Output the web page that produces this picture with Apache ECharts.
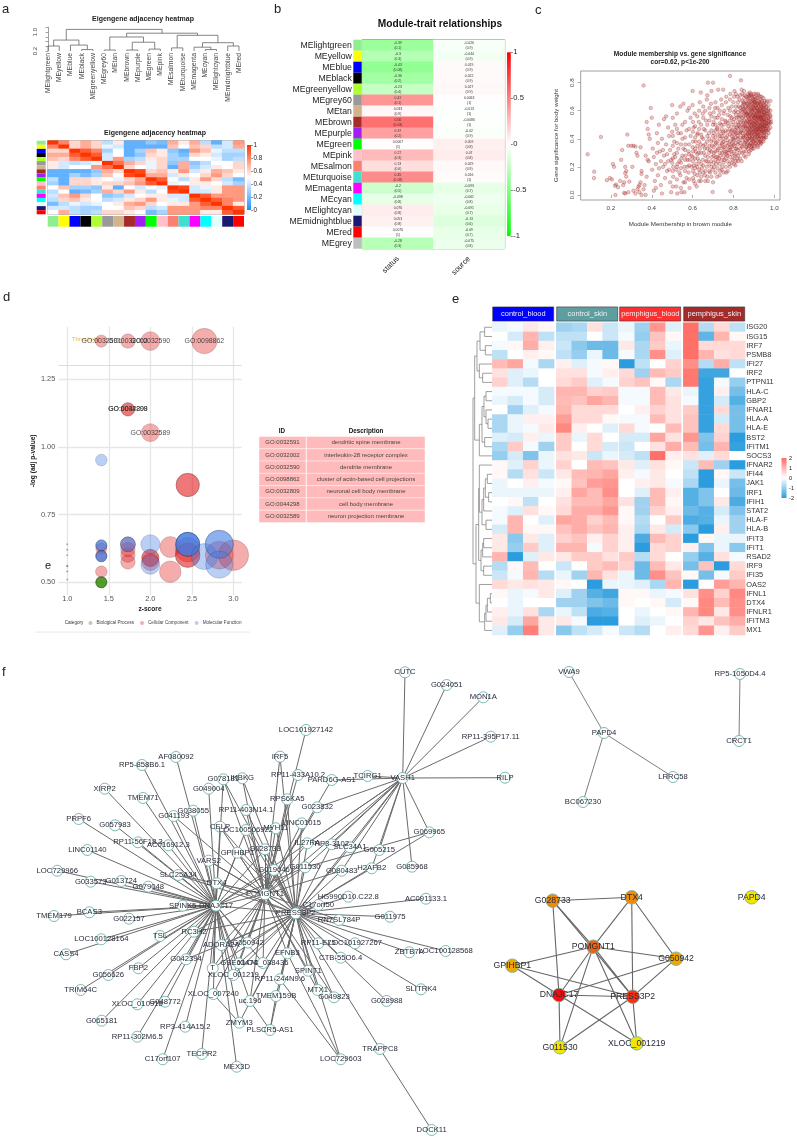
<!DOCTYPE html>
<html><head><meta charset="utf-8">
<style>html,body{margin:0;padding:0;background:#fff}#c{width:797px;height:1139px}</style>
<script src="https://cdn.jsdelivr.net/npm/echarts@6/dist/echarts.min.js"></script>
</head><body><div id="c"></div>
<script>
const F='"Liberation Sans",Arial,sans-serif';
/* ---------- panel a / b: modules ---------- */
const modules=['MElightgreen','MEyellow','MEblue','MEblack','MEgreenyellow','MEgrey60','MEtan','MEbrown','MEpurple','MEgreen','MEpink','MEsalmon','MEturquoise','MEmagenta','MEcyan','MElightcyan','MEmidnightblue','MEred','MEgrey'];
const moduleColors=['#90EE90','#FFFF00','#0000FF','#000000','#ADFF2F','#999999','#D2B48C','#A52A2A','#A020F0','#00FF00','#FFC0CB','#FA8072','#40E0D0','#FF00FF','#00FFFF','#E0FFFF','#191970','#FF0000','#BEBEBE'];
const eigenModules=modules.slice(0,18);
const eigenMerges=[[0,1,.41],[3,4,.26],[2,19,.45],[18,20,.66],[5,6,.24],[7,8,.24],[9,10,.28],[23,24,.57],[22,25,.79],[11,12,.33],[14,15,.26],[13,28,.36],[16,17,.41],[29,30,.55],[27,31,.86],[26,32,.95],[21,33,1.11]];
const adjacency=[
[1,.8,.6,.7,.6,.35,.55,.15,.15,.25,.2,.7,.55,.7,.35,.15,.4,.75],
[.8,1,.6,.7,.6,.45,.4,.15,.15,.15,.15,.65,.5,.65,.6,.35,.4,.7],
[.6,.6,1,.9,.8,.3,.5,.15,.3,.65,.55,.25,.15,.75,.65,.45,.35,.35],
[.7,.7,.9,1,.9,.4,.5,.15,.25,.6,.55,.3,.2,.6,.55,.4,.3,.3],
[.65,.6,.8,.9,1,.4,.75,.3,.35,.55,.6,.3,.3,.5,.5,.45,.3,.35],
[.55,.4,.35,.4,.45,1,.85,.7,.6,.45,.6,.25,.7,.25,.35,.5,.5,.6],
[.55,.4,.5,.5,.75,.85,1,.6,.5,.45,.6,.15,.7,.3,.4,.55,.5,.6],
[.15,.15,.15,.15,.25,.7,.6,1,.95,.6,.65,.55,.75,.4,.55,.7,.65,.55],
[.15,.15,.3,.2,.3,.65,.5,.95,1,.7,.7,.4,.55,.5,.6,.75,.6,.5],
[.35,.15,.6,.6,.55,.5,.45,.6,.7,1,.9,.5,.35,.55,.75,.6,.35,.2],
[.3,.15,.6,.6,.55,.6,.6,.65,.75,.9,1,.45,.5,.55,.55,.5,.4,.3],
[.5,.65,.3,.3,.25,.55,.15,.5,.4,.5,.45,1,.95,.4,.45,.55,.75,.75],
[.35,.5,.15,.2,.3,.7,.6,.75,.55,.35,.5,.95,1,.4,.4,.55,.75,.75],
[.4,.65,.75,.6,.5,.25,.3,.4,.5,.55,.55,.4,.4,1,.9,.75,.75,.75],
[.35,.6,.65,.55,.5,.35,.4,.55,.6,.75,.55,.45,.4,.9,1,.9,.8,.75],
[.2,.35,.45,.4,.45,.5,.55,.7,.75,.6,.5,.55,.55,.75,.9,1,.8,.55],
[.4,.4,.35,.3,.3,.5,.5,.65,.6,.35,.4,.75,.75,.75,.8,.8,1,.9],
[.5,.7,.35,.3,.35,.6,.6,.55,.5,.2,.3,.75,.75,.75,.55,.55,.9,1]];
const traits=['status','source'];
const statusCor=[-.39,-.3,-.43,-.36,-.23,.41,.033,.56,.37,.0067,.27,.13,.45,-.2,-.098,.076,.053,.0076,-.28];
const statusP=['0.1','0.3','0.08','0.2','0.4','0.1','0.9','0.03','0.2','1','0.3','0.6','0.08','0.5','0.8','0.8','0.8','1','0.3'];
const sourceCor=[-.026,-.044,.019,.022,.027,.0063,-.013,-.0086,-.02,.059,.07,.029,.016,-.093,-.061,-.091,-.13,-.09,-.075];
const sourceP=['0.9','0.9','0.9','0.9','0.9','1','1','1','0.9','0.8','0.8','0.9','1','0.7','0.8','0.7','0.6','0.7','0.8'];
/* ---------- panel c ---------- */
const membershipSignificance=[
[.086,.29],[.151,.413],[.118,.166],[.117,.12],[.36,.78],[.18,.105],[.195,.12],[.205,.11],[.21,.22],[.215,.2],[.22,.065],[.225,.075],[.222,0],[.235,.055],[.245,.1],[.25,.25],[.255,.32],[.26,.07],[.265,.09],[.27,.2],[.275,.17],[.27,.155],[.275,.13],[.265,.015],[.27,.01],[.285,.02],[.29,.095],[.285,.35],[.3,.35],[.31,.35],[.28,.43],[.32,.345],[.325,.3],[.33,.28],[.305,.2],[.33,.04],[.335,.06],[.34,.07],[.345,.09],[.35,.17],[.35,.15],[.345,.34],[.36,.04],[.31,.03],[.32,.01],[.34,.02],[.35,0],[.37,0],[.365,.07],[.375,.13],[.38,.25],[.385,.24],[.37,.28],[.375,.52],[.38,.47],[.385,.43],[.39,.4],[.395,.62],
[.4,.55],[.405,.33],[.41,.27],[.402,.18],[.415,.1],[.42,.05],[.41,.03],[.425,.44],[.43,.37],[.42,.22],[.435,.5],[.44,.31],[.43,.14],[.445,.07],[.45,.01],[.45,.4],[.455,.2],[.46,.54],[.46,.28],[.465,.12],[.47,.36],[.47,.56],[.475,.17],[.48,.48],[.48,.24],[.485,.42],[.49,.09],[.49,.32],[.495,.02],[.5,.64],[.5,.45],[.5,.23],[.505,.13],[.51,.38],[.51,.29],[.515,.5],[.52,.18],[.52,.06],[.525,.01],[.53,.44],[.53,.33],[.535,.24],[.54,.63],[.54,.14],[.545,.02],[.55,.5],[.55,.4],[.55,.28],[.555,.65],[.555,.09],[.56,.2],[.56,.02],[.565,.36],[.57,.46],[.57,.12],[.575,.6],[.575,.25],[.58,.31],[.58,.16],[.585,.05],[.59,.55],[.59,.42],[.595,.2],[.6,.74],[.6,.64],[.6,.34],[.6,.27],[.605,.48],[.605,.1],[.61,.15],[.61,.58],[.615,.38],[.62,.22],[.62,.06],[.625,.44],[.63,.3],[.63,.52],[.635,.66],[.635,.16],[.64,.73],[.64,.36],[.64,.1],[.645,.41],[.65,.25],[.65,.58],[.655,.47],[.66,.33],[.66,.14],[.665,.53],[.67,.68],[.67,.38],[.67,.2],[.675,.8],[.675,.1],[.68,.44],[.68,.3],[.685,.58],[.685,.16],[.69,.65],[.69,.24],[.695,.35],[.698,.021],[.7,.8],[.7,.5],[.7,.42],[.7,.18],[.7,.09],
[.705,.3],[.71,.62],[.71,.55],[.715,.37],[.715,.22],[.72,.47],[.72,.13],[.725,.75],[.725,.33],[.73,.57],[.73,.26],[.735,.42],[.735,.17],[.74,.68],[.74,.5],[.745,.3],[.745,.2],[.75,.75],[.75,.38],[.75,.45],[.755,.6],[.755,.25],[.76,.53],[.76,.34],[.765,.7],[.765,.16],[.77,.42],[.77,.28],[.775,.62],[.775,.49],[.78,.36],[.78,.22],[.783,.848],[.785,.026],[.785,.72],[.785,.56],[.79,.45],[.79,.31],[.795,.25],[.8,.66],[.8,.4],[.8,.52],[.8,.36],[.805,.74],[.805,.28],[.81,.6],[.81,.46],[.81,.21],[.815,.33],[.815,.55],[.82,.7],[.82,.42],[.82,.26],[.825,.63],[.825,.5],[.825,.38],[.83,.3],[.83,.57],[.83,.68],[.835,.45],[.837,.817],[.84,.75],[.84,.35],[.84,.53],[.84,.24],[.845,.61],[.845,.41],[.85,.66],[.85,.48],[.85,.31],[.85,.56],[.855,.37],[.855,.71],[.86,.43],[.86,.62],[.86,.52],[.86,.27],[.865,.58],[.865,.34],[.87,.47],[.87,.68],[.87,.4],[.875,.55],[.875,.63],[.875,.29],[.88,.5],[.88,.73],[.88,.36],[.88,.44],[.885,.6],[.885,.66],[.885,.32],[.89,.54],[.89,.41],[.89,.47],[.89,.7],[.895,.57],[.895,.38],[.895,.63],[.9,.51],[.9,.45],[.9,.33],[.9,.67],[.9,.72],[.905,.6],[.905,.55],[.905,.41],[.91,.48],[.91,.64],[.91,.37],[.91,.69],[.915,.53],[.915,.58],[.915,.44],[.92,.5],[.92,.61],[.92,.34],[.92,.72],[.925,.56],[.925,.46],[.925,.66],[.925,.4],[.93,.52],[.93,.6],[.93,.42],[.93,.7],[.935,.49],[.935,.55],[.935,.63],[.935,.37],[.94,.58],[.94,.45],[.94,.67],[.94,.52],[.945,.61],[.945,.41],[.945,.48],[.945,.56],[.95,.53],[.95,.64],[.95,.44],[.95,.59],[.955,.5],[.955,.57],[.955,.46],[.96,.62],[.96,.54],[.96,.41],[.965,.49],[.965,.58],[.965,.67],[.97,.55],[.97,.46],[.97,.6],[.975,.52],[.98,.57],[.985,.52],
[.86,.49],[.87,.53],[.88,.57],[.89,.5],[.9,.55],[.91,.52],[.92,.47],[.92,.55],[.93,.47],[.94,.5],[.95,.49],[.89,.6],[.9,.62],[.91,.57],[.92,.65],[.93,.65],[.94,.62],[.87,.58],[.88,.52],[.86,.57],[.85,.51],[.84,.46],[.83,.49],[.85,.42],[.86,.39],[.87,.36],[.88,.41],[.89,.35],[.9,.38],[.91,.43],[.92,.42],[.93,.38],[.95,.4],[.9,.49],[.91,.46],[.89,.44],[.87,.44],[.88,.47],[.93,.56],[.94,.54],[.96,.51],[.96,.47],[.97,.51],[.925,.59],[.915,.62],[.905,.66],[.895,.68],[.885,.71],[.875,.7],[.865,.65],[.855,.6],[.845,.64],[.835,.6],[.825,.55],[.815,.48],[.805,.45],[.795,.4],[.785,.34],[.775,.32],[.765,.29],[.755,.31],[.745,.36],[.735,.28],[.725,.24],[.715,.27],[.705,.2],[.695,.27],[.685,.32],[.675,.27],[.665,.24],[.655,.3],[.645,.19],[.635,.33],[.625,.26],[.615,.31],[.605,.21],[.595,.28],[.585,.25],[.575,.2],[.565,.28],[.555,.33],[.545,.26],[.535,.16],[.525,.22],[.515,.27],[.505,.2],[.495,.25],[.485,.18],[.475,.29],[.465,.22],[.455,.32],[.445,.24],[.435,.19],[.425,.3]];
/* extra points, read column by column: [membership, [significance...]] */
const membershipColumns=[
[.843,[.39,.44,.5,.55,.59,.63,.67,.72,.3,.34]],
[.852,[.36,.41,.46,.49,.53,.58,.61,.65,.69,.74,.28]],
[.861,[.34,.38,.42,.45,.48,.51,.55,.59,.63,.66,.7,.31]],
[.871,[.33,.37,.4,.43,.46,.49,.52,.56,.59,.62,.65,.69,.72]],
[.878,[.35,.39,.42,.45,.48,.51,.54,.57,.61,.64,.67,.71,.31]],
[.887,[.34,.37,.4,.43,.46,.49,.52,.55,.58,.61,.64,.67,.72]],
[.893,[.36,.39,.42,.45,.48,.51,.53,.56,.59,.62,.65,.69,.33]],
[.902,[.35,.4,.43,.46,.48,.5,.53,.56,.58,.61,.64,.66,.7]],
[.908,[.36,.39,.42,.45,.47,.5,.52,.55,.57,.6,.63,.66,.68,.72]],
[.917,[.35,.38,.41,.44,.47,.49,.51,.54,.56,.59,.62,.65,.69]],
[.923,[.37,.4,.43,.45,.48,.5,.53,.55,.58,.6,.63,.67,.71]],
[.932,[.36,.39,.42,.45,.47,.49,.51,.54,.56,.59,.61,.64,.68]],
[.938,[.38,.41,.44,.46,.48,.5,.53,.55,.57,.6,.63,.66,.7]],
[.947,[.38,.42,.45,.47,.5,.52,.54,.57,.59,.62,.65,.69]],
[.953,[.41,.44,.47,.49,.52,.54,.56,.59,.61,.64,.67]],
[.962,[.43,.46,.49,.51,.53,.56,.58,.6,.63,.66]],
[.972,[.44,.47,.5,.53,.55,.58,.61,.64]],
[.981,[.48,.51,.54,.56,.6,.67]],
[.703,[.23,.28,.34,.39,.44,.52,.59]],
[.712,[.16,.25,.31,.36,.41,.46,.5,.66]],
[.722,[.19,.27,.32,.38,.43,.48,.55,.62]],
[.733,[.14,.22,.3,.35,.4,.45,.51,.6]],
[.743,[.18,.25,.33,.37,.42,.47,.54,.64]],
[.752,[.16,.23,.28,.34,.4,.44,.5,.58]],
[.763,[.2,.26,.31,.37,.41,.46,.52,.66]],
[.772,[.17,.24,.3,.35,.39,.45,.51,.57]],
[.783,[.2,.27,.32,.38,.43,.47,.53,.6,.68]],
[.792,[.23,.29,.34,.37,.42,.46,.5,.55,.63]],
[.803,[.22,.26,.31,.35,.39,.43,.48,.54,.59,.7]],
[.812,[.24,.29,.33,.37,.41,.44,.5,.57,.63,.72]],
[.822,[.24,.28,.32,.36,.4,.44,.47,.52,.59,.66]],
[.833,[.26,.33,.37,.41,.44,.48,.52,.56,.62,.71]],
[.602,[.12,.17,.24,.31,.38,.45,.52]],
[.612,[.08,.19,.26,.33,.41,.49]],
[.623,[.14,.2,.29,.35,.43,.56]],
[.632,[.1,.18,.24,.38,.47,.6]],
[.642,[.13,.22,.3,.43,.5]],
[.652,[.16,.21,.35,.4,.55,.63]],
[.662,[.1,.17,.28,.36,.46,.6]],
[.672,[.13,.24,.33,.42,.5,.71]],
[.682,[.17,.22,.35,.4,.53,.62]],
[.692,[.13,.2,.31,.38,.46,.56,.74]],
[.503,[.06,.17,.26,.35,.42,.55]],
[.523,[.11,.2,.3,.37,.47,.58]],
[.543,[.05,.19,.23,.36,.44]],
[.563,[.09,.17,.25,.32,.41,.52]],
[.583,[.11,.21,.29,.36,.47,.62]]];
/* ---------- panel d ---------- */
const cellularComponent=[[1.41,1.39,10,'GO:0032591'],[1.73,1.39,14,'GO:0032002'],[2,1.39,24,'GO:0032590'],[2.65,1.39,45,'GO:0098862'],[1.73,1.138,12,'GO:0032809'],[1.73,1.138,12,'GO:0044298'],[2,1.052,22,'GO:0032589'],[2.45,.859,38],[2.45,.859,38],
[1,.62,1],[1,.56,1],[1,.54,1],[1.41,.625,8],[1.41,.6,8],[1.41,.539,9],[1.73,.64,14],[1.73,.62,14],[1.73,.6,14],[1.73,.575,14],[2,.59,20],[2,.59,20],[2,.575,20],[2.24,.63,30],[2.24,.539,32],[2.45,.62,42],[2.45,.6,42],[2.45,.6,42],[2.83,.6,55],[3,.6,66]];
const molecularFunction=[[1,.64,1],[1,.6,1],[1,.56,1],[1,.51,1],[1.41,.951,9],[1.41,.636,8],[1.41,.636,8],[1.41,.636,8],[1.41,.596,8],[1.41,.596,8],[1.41,.596,8],[1.73,.64,15],[1.73,.64,15],[2,.64,25],[2,.565,25],[2.45,.64,40],[2.45,.64,40],[2.45,.64,40],[2.45,.64,40],[2.65,.595,48],[2.83,.64,56],[2.83,.64,56],[2.83,.565,52]];
const biologicalProcess=[[1.41,.5,8],[1.41,.5,8],[1.41,.5,8],[1.41,.5,8]];
const bubbleThreshold=1.3;
const zTicks=[1,1.5,2,2.5,3];
const logpTicks=[.5,.75,1,1.25];
const goIds=['GO:0032591','GO:0032002','GO:0032590','GO:0098862','GO:0032809','GO:0044298','GO:0032589'];
const goDescriptions=['dendritic spine membrane','interleukin-28 receptor complex','dendrite membrane','cluster of actin-based cell projections','neuronal cell body membrane','cell body membrane','neuron projection membrane'];
/* ---------- panel e ---------- */
const genes=['ISG20','ISG15','IRF7','PSMB8','IFI27','IRF2','PTPN11','HLA-C','GBP2','IFNAR1','HLA-A','HLA-E','BST2','IFITM1','SOCS3','IFNAR2','IFI44','JAK1','IRF1','IFIH1','STAT2','HLA-F','HLA-B','IFIT3','IFIT1','RSAD2','IRF9','IFI35','OAS2','IFNL1','DTX4','IFNLR1','IFITM3','MX1'];
const groups=['control_blood','control_skin','pemphigus_blood','pemphigus_skin'];
const groupColors=['#0000FF','#5F9EA0','#FF3030','#A52A2A'];
const expression=[
[-.2,-.1,.3,.1,-.9,-.8,.4,-.5,-.2,-.9,1.4,-.3,1.9,-.7,.5,-.6],
[0,-.4,1,-.6,-.6,-.6,0,-.5,-.1,-1,.8,.1,1.9,-1.5,1,.1],
[-.1,.1,1.1,.2,-.5,-1.1,-1.4,-1.4,.3,-.8,.7,-.2,1.9,.5,.5,.5],
[-.6,0,.2,.1,-.6,-1,-.2,-1.4,-.1,-.8,1.5,-.3,1.9,1,.4,.5],
[.9,1.2,-.1,-.8,.2,-.3,-.1,.1,-2,-.6,0,.6,1.5,-.7,1.1,-.6],
[.4,-.3,-.2,0,.4,.4,-.1,.2,.5,-.9,.9,.7,1.8,-1.8,-1.8,0],
[.6,-.3,-.7,0,.5,.7,-.3,-.1,.6,.8,.1,-.8,1.8,-1.9,-.1,-1],
[-.1,-.1,-.1,-.4,1,1,.6,.7,-.1,-.1,.9,.3,-.2,-1.9,.2,-1.3],
[-.2,-.4,-.1,-.4,.9,.8,1.2,1,-.1,-.1,.9,.4,-.1,-1.9,-.4,-1.6],
[0,-.9,-.3,-.1,1,.5,.5,.5,0,.2,.6,.4,.7,-1.9,.5,-1.3],
[-.8,-.2,.2,.2,1.3,.5,.5,.1,-.1,-.1,.9,.4,.8,-1.9,-.4,-1.3],
[-.8,-.2,-.1,.3,1.6,.2,0,-.3,.5,-.1,0,.9,.8,-1.9,.5,-1.3],
[-.3,-.4,.2,-.2,.7,-.2,.5,0,-.4,-.4,1.2,.4,1.4,-1.2,.6,-2],
[-.8,.7,-.1,-.9,.7,0,.5,-.4,-.5,0,.4,1.1,.9,-1.3,1,-1.9],
[-1,-.4,-1.2,-.2,.4,.3,-.5,-.2,-.4,-.6,1.9,.2,.4,-.3,.5,0],
[.1,-.3,.6,-.2,.6,0,.9,.8,.3,-.3,.4,.1,-.5,.9,-.9,-2],
[.1,-.7,.4,-.5,.3,.9,1,1.2,.2,-.1,.3,0,-.6,-2,.1,-.5],
[-.2,0,.2,-.1,.1,.8,1.3,1.4,0,.2,.3,-.1,-.8,-2,-.2,-1.3],
[-.2,-.2,-.2,-.2,.2,1.2,.9,1.5,0,-.3,.9,.2,-1.6,-1.2,0,-1.4],
[0,.1,-.6,0,.4,.9,.9,1.2,.4,-.9,.9,.1,-1.6,-1.2,.3,-1.7],
[-.1,-.3,.4,.1,.5,1.1,1.1,1.4,.1,-.9,.6,.2,-1.4,-1.6,-.4,-1.2],
[-.1,1,0,-.3,1.2,1.1,.6,.9,.1,-.7,0,.7,-1.7,-1.6,-.2,-.9],
[-.4,1,.1,.1,.8,1.1,.8,1,.2,-.8,.3,-.4,-1.1,-2,.2,-.9],
[.3,-1.1,.3,-.3,.6,.8,.2,.6,.2,-1.7,.9,.6,-2,.1,-.2,-.2],
[.3,-1,.7,-.3,1,1,-.1,.6,.2,-2,.5,.6,.2,-1.2,-.2,-1.1],
[1,-2,-.3,.3,.3,.7,.7,.4,.7,-.7,.5,0,-1,-1.6,.4,-.1],
[-.7,.1,.9,0,-.5,0,.7,.9,.6,-1.4,.9,.3,-1.3,.8,-2,.5],
[-.5,-.1,1,-.7,-.2,-.9,1,.4,-.2,-1.4,1.5,.8,.1,-1.3,-.1,.7],
[.5,.3,.4,.3,.1,0,-2,-.2,-.2,-.3,-.8,1,-2,0,1.3,1],
[.1,-.2,-.1,.3,-.3,-.9,-1.6,-1.8,.1,.1,-.2,-.1,.4,1.5,.6,1.6],
[0,-.2,0,0,-.9,-.9,-1.2,-1.4,.1,0,.1,-.4,.1,1.6,.9,1.5],
[.2,-.2,.4,-.8,-.2,-.6,-1.7,-1.6,0,-.2,0,.1,1,1.6,.3,1.5],
[.3,-.4,1.2,.3,.3,-.1,-2,-2,0,-.3,-.2,0,.6,.3,.8,1.1],
[-.3,-1,1.7,.3,-1.1,-.6,-.4,-.1,-.5,-.7,0,.2,.5,1.4,.2,.7]];
const geneMerges=[[0,1,22],[2,3,20],[34,35,36],[5,6,28],[4,37,38],[36,38,45],[7,8,18],[10,11,12],[9,41,18],[40,42,24],[12,13,22],[43,44,30],[45,14,38],[39,46,52],
[16,17,14],[18,19,10],[48,49,20],[20,50,25],[21,22,18],[51,52,30],[15,53,38],[23,24,25],[25,55,28],[26,27,25],[56,57,33],[54,58,40],[29,30,5],[60,31,14],[61,32,18],[62,33,22],[28,63,38],[59,64,48],[47,65,57]];
/* ---------- panel f ---------- */
const netNodes=[['DNAJC17',216,905.7],['POMGNT1',265,894.3],['PRESS3P2',295.7,913.3],['VASH1',402.7,778],['RP5-858B6.1',142,765],['AF080092',176,757],['XIRP2',104.7,788.7],['TMEM71',143,798],['G078181',223.3,779.3],['IKBKG',242.3,778.3],['G049004',208.7,788.7],['G041193',173.7,816],['G038055',193.3,810.7],['RP11-403N14.1',246,810],['PRPF6',78.7,819],['G057983',115,825.3],['CELP',220,826.7],['LOC100506922',246,830],['MYH11',275.7,828.3],['RP11-56F18.3',138,842.3],['AC016912.3',168.3,845.3],['LINC01140',87.3,850],['VARS2',208.7,860.7],['GPIHBP1',237.3,852.7],['G028733',265,849.3],['G019646',274,870],['LOC729966',57.3,870.7],['G033573',90.7,881.7],['G013724',121.3,881],['G079048',148.3,886.7],['SLC25A34',178.3,875],['DTX4',216.7,883.3],['SPINK5',182.7,905.7],['TMEM179',54,916],['BCAS3',89.3,912.3],['G022157',129,918.7],['LOC100128164',101.3,939.3],['TSL',160,936],['RC3H2',194,931.7],['ADORA2A',221.3,945],['G050942',248,942.5],['CASS4',66,954.3],['G042394',186,959.3],['FBP2',138.3,968.3],['G056626',108.3,975],['TRIM64C',80.7,990],['T',212.7,968.3],['GSE61474',239,963.3],['XLOC_038436',263,963],['XLOC_001219',233.3,975],['EFNB3',287.3,953.3],['RP11-244N9.6',280,979.3],['SPINT1',308.3,970.7],['RP11-E75',318.3,943.3],['LOC101927267',355,943.3],['CTB-55O6.4',340.7,957.7],['ZBTB7A',409.3,952.3],['LOC100128568',445.7,951],['SLITRK4',421,989.3],['G028988',386.7,1001],['MTX1',317.7,990],['G049823',334,997.3],['XLOC_007240',213.3,994],['TMEM159B',276,996],['uc.196',250,1001],['XLOC_010918',137.3,1004.3],['G048772',165,1001.7],['G065181',101.7,1020.7],['RP3-414A15.2',185.3,1026.7],['RP11-302M6.5',137.3,1036.7],['ZMYM3',239.3,1022.7],['PLSCR5-AS1',270,1030],['C17orf107',162.7,1059.3],['TECPR2',201.7,1054],['MEX3D',236.7,1066.7],['LOC729603',340.7,1059.3],['TRAPPC8',380,1049],['DOCK11',431.7,1130],['CUTC',405,672.3],['G024051',446.7,685],['MON1A',483.3,697.3],['RP11-395P17.11',490.7,736.7],['RILP',505,777.7],['LOC101927142',306,730],['IRF5',280,756.7],['RP11-433A10.2',298,775],['PARD6G-AS1',331.7,780],['TCIRG1',367.7,776],['RPS6KA5',287.3,799.3],['G023832',317.3,807.3],['LINC01015',301.7,823.3],['IL27RA',307.3,843.3],['RP3-3102',331.7,844.3],['SLC34A1',350,847.3],['G005215',379.3,850],['H2AFB2',371.7,868.3],['G085968',412,866.7],['G069965',429.3,832.3],['G080483',341.7,870.7],['G011530',305,867.3],['HG990D10.C22.8',348.3,896.7],['C17orf50',318.3,905],['AC091133.1',426,898.7],['RN7SL784P',339,920],['G011975',390,916.7]];
const dnajPartners=['RP5-858B6.1','AF080092','XIRP2','TMEM71','G078181','G049004','G041193','G038055','PRPF6','G057983','CELP','RP11-56F18.3','AC016912.3','LINC01140','VARS2','LOC729966','G033573','G013724','G079048','SLC25A34','DTX4','SPINK5','TMEM179','BCAS3','G022157','LOC100128164','TSL','RC3H2','ADORA2A','CASS4','G042394','FBP2','G056626','TRIM64C','T','XLOC_010918','G048772','G065181','RP3-414A15.2','RP11-302M6.5','C17orf107','TECPR2','MEX3D','XLOC_007240','ZMYM3','uc.196','GSE61474','XLOC_001219','POMGNT1','PRESS3P2','G028733','GPIHBP1','G050942','G019646','G011530','LOC100506922','XLOC_038436'];
const pomgPartners=['IKBKG','G078181','RP11-403N14.1','CELP','LOC100506922','MYH11','GPIHBP1','G028733','G019646','VARS2','DTX4','RPS6KA5','IRF5','RP11-433A10.2','LOC101927142','G023832','LINC01015','PARD6G-AS1','IL27RA','G011530','G080483','RN7SL784P','XLOC_001219','G050942','EFNB3','XLOC_038436','PRESS3P2','SPINT1','MTX1','G049823','ADORA2A','GSE61474','RC3H2','T','SLC25A34','G041193','uc.196','XLOC_007240'];
const pressPartners=['IKBKG','RP11-403N14.1','LOC100506922','MYH11','RPS6KA5','G028733','G019646','IL27RA','G011530','LINC01015','RP3-3102','SLC34A1','G080483','H2AFB2','HG990D10.C22.8','C17orf50','AC091133.1','RN7SL784P','G011975','RP11-E75','LOC101927267','CTB-55O6.4','ZBTB7A','LOC100128568','SLITRK4','G028988','MTX1','G049823','SPINT1','EFNB3','TMEM159B','RP11-244N9.6','XLOC_038436','PLSCR5-AS1','LOC729603','TRAPPC8','XLOC_001219','G050942','DTX4','GPIHBP1','G069965','GSE61474','ZMYM3','T','G042394','VARS2','SLC25A34','CELP','RC3H2','ADORA2A','uc.196','IRF5','G078181'];
const vashPartners=['CUTC','G024051','MON1A','RP11-395P17.11','RILP','TCIRG1','PARD6G-AS1','G023832','G005215','SLC34A1','H2AFB2','G085968','G069965','RP3-3102','G080483','POMGNT1','DNAJC17','PRESS3P2','G011530','IL27RA'];
const netExtraLinks=[['TRAPPC8','DOCK11'],['PLSCR5-AS1','TMEM159B'],['LOC729603','RP11-244N9.6'],['LOC729603','EFNB3'],['ZMYM3','XLOC_007240'],['PLSCR5-AS1','uc.196'],['G069965','G011530']];
const smallNetNodes=[['VWA9',569,672],['PAPD4',604,733],['LRRC58',673,777],['BC067230',583,802],['RP5-1050D4.4',740,674],['CRCT1',739,741]];
const smallNetLinks=[['VWA9','PAPD4'],['PAPD4','LRRC58'],['PAPD4','BC067230'],['RP5-1050D4.4','CRCT1']];
const hubNodes=[['G028733',552.7,900.7,'#F08A0A'],['DTX4',631.7,897.3,'#F08A0A'],['POMGNT1',593.3,946.7,'#F06010'],['G050942',676,958.7,'#F0A800'],['GPIHBP1',512.3,965.7,'#F0A800'],['DNAJC17',559,995,'#F01010'],['PRESS3P2',632.7,996.7,'#F83010'],['G011530',560,1047.3,'#F5E400'],['XLOC_001219',636.7,1043.3,'#F5E400'],['PAPD4',751.7,897.3,'#F5E400']];
const hubLinks=[['G028733','DTX4'],['G028733','POMGNT1'],['G028733','DNAJC17'],['G028733','PRESS3P2'],['DTX4','POMGNT1'],['DTX4','G050942'],['DTX4','PRESS3P2'],['POMGNT1','G050942'],['POMGNT1','GPIHBP1'],['POMGNT1','DNAJC17'],['POMGNT1','PRESS3P2'],['POMGNT1','G011530'],['POMGNT1','XLOC_001219'],['GPIHBP1','DNAJC17'],['GPIHBP1','PRESS3P2'],['DNAJC17','PRESS3P2'],['DNAJC17','G050942'],['DNAJC17','G011530'],['DNAJC17','XLOC_001219'],['PRESS3P2','G050942'],['PRESS3P2','G011530'],['PRESS3P2','XLOC_001219']];

/* ---------- builders ---------- */
const grids=[],xAxes=[],yAxes=[],series=[],visualMaps=[],graphics=[];
const off={show:false};
function panel(rect,x,y){grids.push(Object.assign({containLabel:false},rect));const i=grids.length-1;
  xAxes.push(Object.assign({gridIndex:i},x));yAxes.push(Object.assign({gridIndex:i},y));return i;}
function text(x,y,s,size,o){o=o||{};graphics.push({type:'text',x:x,y:y,rotation:o.rot||0,silent:true,style:{text:s,fontSize:size,fontFamily:F,fontWeight:o.w||'normal',fill:o.c||'#333',align:o.a||'center',verticalAlign:'middle'}});}
function rect(x,y,w,h,fill,stroke,lw){graphics.push({type:'rect',silent:true,shape:{x:x,y:y,width:w,height:h},style:{fill:fill,stroke:stroke||null,lineWidth:lw||0}});}
function cat(d,o){return Object.assign({type:'category',data:d,axisLine:off,axisTick:off,axisLabel:off,splitLine:off},o||{});}
function val(min,max,o){return Object.assign({type:'value',min:min,max:max,axisLine:off,axisTick:off,axisLabel:off,splitLine:off},o||{});}
function dendro(merges,n,baseH,vertical,gi,color,lw){
  const pos={},hgt={};for(let i=0;i<n;i++){pos[i]=i;hgt[i]=baseH;}
  const rows=merges.map(function(m,k){const id=n+k;const r=[pos[m[0]],hgt[m[0]],pos[m[1]],hgt[m[1]],m[2]];pos[id]=(r[0]+r[2])/2;hgt[id]=m[2];return r;});
  series.push({type:'custom',xAxisIndex:gi,yAxisIndex:gi,silent:true,encode:{x:vertical?0:4,y:vertical?4:0},data:rows,
    renderItem:function(p,api){const a=api.value(0),ah=api.value(1),b=api.value(2),bh=api.value(3),h=api.value(4);
      const C=vertical?function(q,v){return api.coord([q,v]);}:function(q,v){return api.coord([v,q]);};
      return {type:'polyline',shape:{points:[C(a,ah),C(a,h),C(b,h),C(b,bh)]},style:{fill:null,stroke:color,lineWidth:lw}};}});
}
function strip(gi,cols,horizontal){
  series.push({type:'custom',xAxisIndex:gi,yAxisIndex:gi,silent:true,data:cols.map(function(c,i){return horizontal?[i,0]:[0,i];}),
   renderItem:function(p,api){const c=api.coord([api.value(0),api.value(1)]),s=api.size([1,1]);
     return {type:'rect',shape:{x:c[0]-s[0]/2,y:c[1]-s[1]/2,width:s[0],height:s[1]},style:{fill:cols[p.dataIndex]}};}});
}
function colorbar(rectv,min,max,stops,interval,size,tickColor){
  const gi=panel(rectv,cat(['']),val(min,max,{position:'right',interval:interval,axisTick:{show:true,length:2,lineStyle:{color:tickColor,width:.6}},axisLabel:{show:true,fontSize:size,fontFamily:F,color:'#222',margin:2.5}}));
  series.push({type:'custom',xAxisIndex:gi,yAxisIndex:gi,silent:true,data:[[0,min]],renderItem:function(p){const g=p.coordSys;
    return {type:'rect',shape:{x:g.x,y:g.y,width:g.width,height:g.height},style:{fill:new echarts.graphic.LinearGradient(0,1,0,0,stops.map(function(c,i){return {offset:i/(stops.length-1),color:c};}))}};}});
}
const hmColors=['#1E90FF','#FFFFFF','#FF3300'];
const grColors=['#00FF00','#FFFFFF','#FF0000'];
const expColors=['#2B9CDD','#FFFFFF','#FF6A60'];

/* ---- panel a ---- */
text(2,9,'a',13,{a:'left',c:'#222'});
text(143,19.5,'Eigengene adjacency heatmap',7,{w:'bold',c:'#222'});
const ga0=panel({left:42.4,top:27.25,width:202.2,height:23.75},cat(eigenModules,{axisLabel:{show:true,rotate:90,interval:0,fontSize:6.8,fontFamily:F,color:'#444',margin:2}}),val(.2,1.2,{show:false}));
const ga1=panel({left:42.4,top:27.25,width:202.2,height:23.75},val(-.5,17.5),val(.2,1.2,{interval:.2,position:'left',offset:2.4,axisLine:{show:true,lineStyle:{color:'#777',width:.7}},axisTick:{show:true,length:2.5,lineStyle:{color:'#777',width:.7}},axisLabel:{show:true,rotate:90,fontSize:6,fontFamily:F,color:'#444',margin:2,formatter:function(v){return Math.abs(v-.2)<.01||Math.abs(v-1)<.01?v.toFixed(1):'';}}}));
dendro(eigenMerges,18,.2,true,ga1,'#666',.8);
text(155,132.7,'Eigengene adjacency heatmap',7,{w:'bold',c:'#222'});
const gah=panel({left:47.7,top:140.7,width:196.3,height:73.6,show:true,borderColor:'#777',borderWidth:.8,backgroundColor:'transparent'},cat(eigenModules),cat(eigenModules,{inverse:true}));
const adjData=[];adjacency.forEach(function(r,i){r.forEach(function(v,j){adjData.push([j,i,v]);});});
series.push({type:'heatmap',xAxisIndex:gah,yAxisIndex:gah,silent:true,data:adjData,progressive:0,z:1});
visualMaps.push({show:false,seriesIndex:series.length-1,min:0,max:1,dimension:2,inRange:{color:hmColors}});
strip(panel({left:36.7,top:140.7,width:9,height:73.6},cat(['']),cat(eigenModules,{inverse:true})),moduleColors.slice(0,18),false);
strip(panel({left:47.7,top:216,width:196.3,height:10.7},cat(eigenModules),cat([''])),moduleColors.slice(0,18),true);
colorbar({left:247,top:145,width:4,height:65},0,1,hmColors,.2,6.3,'#555');

/* ---- panel b ---- */
text(274,9,'b',13,{a:'left',c:'#222'});
text(440,24,'Module-trait relationships',10.2,{w:'bold',c:'#111'});
const gbh=panel({left:362.3,top:39.7,width:142.4,height:209,show:true,borderColor:'#666',borderWidth:1,backgroundColor:'transparent'},
 cat(traits,{axisLabel:{show:true,rotate:45,interval:0,fontSize:7.6,fontFamily:F,color:'#222',margin:9}}),cat(modules,{inverse:true}));
const corData=[];modules.forEach(function(m,i){corData.push([0,i,statusCor[i],statusP[i]]);corData.push([1,i,sourceCor[i],sourceP[i]]);});
series.push({type:'heatmap',xAxisIndex:gbh,yAxisIndex:gbh,silent:true,data:corData,progressive:0,z:1,
 label:{show:true,fontSize:3.4,lineHeight:5,fontFamily:F,color:'#333',formatter:function(p){return p.value[2]+'\n('+p.value[3]+')';}}});
visualMaps.push({show:false,seriesIndex:series.length-1,min:-1,max:1,dimension:2,inRange:{color:grColors}});
strip(panel({left:353.3,top:39.7,width:8.4,height:209},cat(['']),cat(modules,{inverse:true,axisLabel:{show:true,interval:0,fontSize:8.7,fontFamily:F,color:'#222',margin:1.5}})),moduleColors,false);
colorbar({left:507,top:52.3,width:3.8,height:183.7},-1,1,grColors,.5,7.6,'#333');

/* ---- panel c ---- */
text(535,10,'c',13,{a:'left',c:'#222'});
text(680,54,'Module membership vs. gene significance',6.6,{w:'bold',c:'#222'});
text(680,62.3,'cor=0.62, p<1e-200',6.6,{w:'bold',c:'#222'});
const gc=panel({left:580.7,top:71,width:199.3,height:129,show:true,borderColor:'#888',borderWidth:.8,backgroundColor:'transparent'},
 val(.052,1.028,{name:'Module Membership in brown module',nameLocation:'middle',nameGap:21.5,nameTextStyle:{fontSize:6.2,fontFamily:F,color:'#333'},axisTick:{show:true,length:3,lineStyle:{color:'#888',width:.7},customValues:[.2,.4,.6,.8,1]},axisLabel:{show:true,customValues:[.2,.4,.6,.8,1],fontSize:6.2,fontFamily:F,color:'#444',margin:5,formatter:function(v){return v.toFixed(1);}}}),
 val(-.036,.883,{name:'Gene significance for body weight',nameLocation:'middle',nameGap:21,nameTextStyle:{fontSize:6.2,fontFamily:F,color:'#333'},axisTick:{show:true,length:3,lineStyle:{color:'#888',width:.7},customValues:[0,.2,.4,.6,.8]},axisLabel:{show:true,rotate:90,customValues:[0,.2,.4,.6,.8],fontSize:6.2,fontFamily:F,color:'#444',margin:5,formatter:function(v){return v.toFixed(1);}}}));
const allMembership=membershipSignificance.slice();
membershipColumns.forEach(function(c){c[1].forEach(function(y){allMembership.push([c[0],y]);});});
series.push({type:'scatter',xAxisIndex:gc,yAxisIndex:gc,silent:true,data:allMembership,symbol:'circle',symbolSize:3.5,large:false,itemStyle:{color:'rgba(165,42,42,.32)',borderColor:'rgba(165,42,42,.62)',borderWidth:.6}});

/* ---- panel d ---- */
text(3,297,'d',13,{a:'left',c:'#222'});
const gridLine={show:true,lineStyle:{color:'#E6E6E6',width:1.3}};
const gd=panel({left:58.3,top:326.7,width:183.4,height:268.3},
 val(.892,3.1,{name:'z-score',nameLocation:'middle',nameGap:11,nameTextStyle:{fontSize:6.6,fontWeight:'bold',fontFamily:F,color:'#222'},splitLine:gridLine,axisTick:{show:false,customValues:zTicks},axisLabel:{show:true,customValues:zTicks,fontSize:7.4,fontFamily:F,color:'#555',margin:.5,formatter:function(v){return v.toFixed(1);}}}),
 val(.453,1.443,{name:'-log (adj p-value)',nameLocation:'middle',nameGap:16,nameTextStyle:{fontSize:6.6,fontWeight:'bold',fontFamily:F,color:'#222'},splitLine:gridLine,axisTick:{show:false,customValues:logpTicks},axisLabel:{show:true,customValues:logpTicks,fontSize:7.4,fontFamily:F,color:'#555',margin:3,formatter:function(v){return v.toFixed(2);}}}));
function bubbleSeries(name,data,rgb){series.push({type:'scatter',name:name,xAxisIndex:gd,yAxisIndex:gd,silent:true,data:data,clip:true,
 symbolSize:function(v){return 1.5+3.6*Math.sqrt(v[2]-1);},itemStyle:{color:'rgba('+rgb+',.45)',borderColor:'rgba(40,40,40,.55)',borderWidth:.4},
 label:{show:true,position:'inside',fontSize:6.9,fontFamily:F,color:'#222',formatter:function(p){return p.value[3]||'';}}});}
bubbleSeries('Cellular Component',cellularComponent,'228,26,28');
series[series.length-1].markLine={silent:true,symbol:'none',animation:false,label:off,lineStyle:{color:'#F6CF8C',width:.8,type:'solid'},data:[{yAxis:bubbleThreshold}]};
bubbleSeries('Molecular Function',molecularFunction,'64,122,226');
bubbleSeries('Biological Process',biologicalProcess,'46,139,0');
text(72,339.5,'Threshold',5.6,{a:'left',c:'#F3C877',w:'bold'});
text(48,566,'e',11,{c:'#222'});
text(74,623,'Category',4.6,{c:'#333'});
rect(35,631.5,215,1.2,'#EEEEEE');

/* table */
const gt=panel({left:259,top:436.5,width:166,height:86},val(0,166),cat(goIds,{inverse:true}));
text(282,431,'ID',6.3,{w:'bold',c:'#111'});
text(366,431,'Description',6.3,{w:'bold',c:'#111'});
series.push({type:'custom',xAxisIndex:gt,yAxisIndex:gt,silent:true,encode:{x:0,y:1},data:goIds.map(function(id,i){return [0,i];}),
 renderItem:function(p,api){const c=api.coord([0,p.dataIndex]),h=api.size([0,1])[1],g=p.coordSys;const x=g.x;
  const st=function(s,cx){return {type:'text',style:{text:s,x:cx,y:c[1],fontSize:6,fontFamily:F,fill:'#444',align:'center',verticalAlign:'middle'}};};
  return {type:'group',children:[{type:'rect',shape:{x:x,y:c[1]-h/2,width:47,height:h},style:{fill:'#FFBBBB',stroke:'#fff',lineWidth:.4}},{type:'rect',shape:{x:x+47.5,y:c[1]-h/2,width:118.5,height:h},style:{fill:'#FFBBBB',stroke:'#fff',lineWidth:.4}},st(goIds[p.dataIndex],x+23.5),st(goDescriptions[p.dataIndex],x+107)]};}});

/* ---- panel e ---- */
text(452,299,'e',13,{a:'left',c:'#222'});
const groupLeft=[492.3,556.3,619.3,683.3];
const emap=[];
groups.forEach(function(g,k){
  const gi=panel({left:groupLeft[k],top:322.7,width:61.8,height:312.3},cat(['1','2','3','4']),cat(genes,{inverse:true,position:'right',axisLabel:k===3?{show:true,interval:0,fontSize:7.4,fontFamily:F,color:'#333',margin:1.2}:off}));
  const d=[];expression.forEach(function(r,i){for(let j=0;j<4;j++)d.push([j,i,r[k*4+j]]);});
  series.push({type:'heatmap',xAxisIndex:gi,yAxisIndex:gi,silent:true,data:d,progressive:0});
  emap.push(series.length-1);
  rect(groupLeft[k]+.4,306.9,61,14.2,groupColors[k],'#333',.6);
  text(groupLeft[k]+31,314,g,7.4,{c:'#EFEFEF'});
});
visualMaps.push({show:false,seriesIndex:emap,min:-2,max:2,dimension:2,inRange:{color:expColors}});
const ged=panel({left:473,top:322.7,width:19,height:312.3},val(0,57,{inverse:true}),val(-.5,33.5,{inverse:true}));
dendro(geneMerges,34,0,false,ged,'#777',.7);
colorbar({left:781.5,top:458,width:6,height:40},-2,2,expColors,1,5.6,'#fff');

/* ---- panel f ---- */
text(2,672,'f',13,{a:'left',c:'#222'});
const gf=panel({left:0,top:640,width:797,height:499},val(0,797),val(640,1139,{inverse:true}));
function pairs(hub,list){return list.map(function(t){return {source:hub,target:t};});}
function graph(nodes,links,size,fs,lw,lc){
 series.push({type:'graph',coordinateSystem:'cartesian2d',xAxisIndex:gf,yAxisIndex:gf,layout:'none',silent:true,symbol:'circle',symbolSize:size,roam:false,
  data:nodes.map(function(n){return {name:n[0],value:[n[1],n[2]],itemStyle:{color:n[3]||'#FFFFFF'}};}),
  links:links,lineStyle:{color:lc,width:lw,opacity:1,curveness:0},itemStyle:{borderColor:'#6FB3AA',borderWidth:.9},
  label:{show:true,position:'inside',fontSize:fs,fontFamily:F,color:'#2A2A3A'},labelLayout:{hideOverlap:false}});
}
graph(netNodes,[].concat(pairs('DNAJC17',dnajPartners),pairs('POMGNT1',pomgPartners),pairs('PRESS3P2',pressPartners),pairs('VASH1',vashPartners),netExtraLinks.map(function(l){return {source:l[0],target:l[1]};})),11,7.7,1,'#6A6A6A');
graph(smallNetNodes,smallNetLinks.map(function(l){return {source:l[0],target:l[1]};}),11,7.7,1,'#808080');
graph(hubNodes,hubLinks.map(function(l){return {source:l[0],target:l[1]};}),13.5,8.7,1.1,'#666666');

const chart=echarts.init(document.getElementById('c'),null,{renderer:'canvas',width:797,height:1139});
chart.setOption({animation:false,backgroundColor:'#fff',grid:grids,xAxis:xAxes,yAxis:yAxes,visualMap:visualMaps,series:series,graphic:{elements:graphics},
 legend:{left:88.5,top:620.5,padding:0,itemWidth:4,itemHeight:4,itemGap:6,selectedMode:false,icon:'circle',data:['Biological Process','Cellular Component','Molecular Function'],itemStyle:{borderWidth:0},textStyle:{fontSize:4.6,fontFamily:F,color:'#444',padding:[0,0,0,-1]}},tooltip:{show:false}});
</script></body></html>
